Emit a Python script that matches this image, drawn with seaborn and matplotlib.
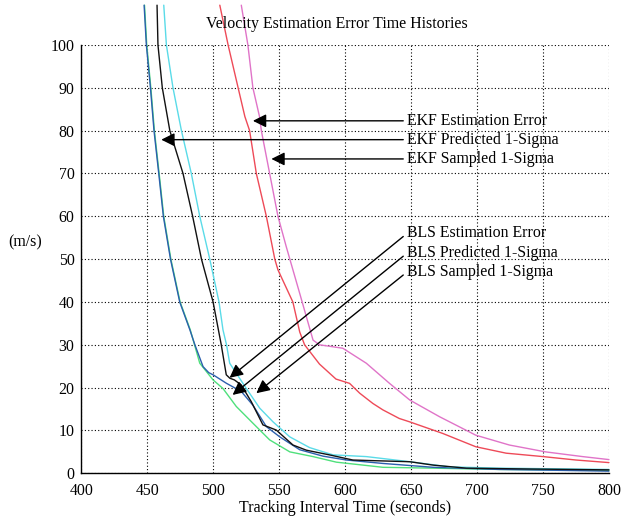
import pandas as pd
import matplotlib
matplotlib.use('Agg')
import matplotlib.pyplot as plt
import seaborn as sns

# Values (time in s, error in m/s)
bls_pred_t = [447.5, 449.2, 452.3, 455.0, 458.6, 462.1, 467.5, 474.5, 482.2, 486.0, 492.2, 496.5,
              499.8, 510.0, 521.2, 530.0, 540.2, 550.4, 565.5, 583.2, 600.9, 628.6, 666.6, 717.0, 760.0, 800.0]
bls_pred_v = [109.3, 100, 90, 80, 70, 60, 50, 40, 33.5, 30, 24.9, 23.5,
              23.0, 21.0, 19.1, 15.9, 10.9, 8.5, 5.5, 4.0, 3.1, 2.3, 1.4, 0.9, 0.7, 0.5]

bls_green_t = [447.8, 449.5, 452.6, 455.3, 458.9, 462.4, 467.8, 474.8, 482.5, 489.7, 499.8, 507.3,
               517.4, 530.0, 542.7, 558.0, 575.6, 593.3, 628.6, 666.6, 717.0, 800.0]
bls_green_v = [109.3, 100, 90, 80, 70, 60, 50, 40, 33.5, 25.7, 21.8, 19.8,
               15.6, 11.7, 7.8, 5.0, 3.9, 2.6, 1.4, 1.2, 0.9, 0.7]

bls_err_t = [457.3, 458.0, 461.3, 467.0, 477.0, 484.3, 491.0, 499.8, 506.0, 509.8, 512.5, 516.0, 521.2,
             528.8, 537.6, 547.7, 560.4, 570.5, 588.0, 605.8, 616.0, 649.0, 667.0, 692.0, 740.0, 800.0]
bls_err_v = [109.3, 100, 90, 80, 70, 60, 50, 40, 30, 23, 22.2, 21.8, 20.6,
             16.7, 11.3, 10.1, 6.6, 5.4, 4.3, 3.1, 3.0, 2.7, 1.9, 1.2, 1.0, 0.8]

bls_samp_t = [462.4, 464.4, 469.4, 475.8, 483.3, 489.7, 497.3, 504.3, 507.3, 510.0, 512.4, 525.0,
              535.2, 545.3, 558.0, 573.0, 590.8, 616.0, 649.0, 679.0, 717.0, 800.0]
bls_samp_v = [109.3, 100, 90, 80, 70, 60, 50, 40, 33.5, 30, 25.7, 19.8,
              15.2, 12.0, 8.5, 6.0, 4.3, 3.9, 2.7, 1.5, 1.2, 0.9]

ekf_err_t = [504.9, 511.2, 518.8, 523.9, 527.5, 532.6, 540.2, 546.6, 549.0, 560.3, 565.5, 569.2, 580.5,
             593.0, 603.3, 611.0, 621.0, 628.6, 641.0, 649.0, 674.0, 699.0, 722.0, 750.0, 775.0, 800.0]
ekf_err_v = [109.3, 100, 90, 83.3, 80, 70, 60, 50, 47.5, 40, 33, 30, 25.5,
             22.0, 21.0, 18.7, 16.3, 14.8, 12.8, 12.0, 9.3, 6.2, 4.7, 3.9, 3.1, 2.5]

ekf_samp_t = [521.2, 526.2, 530.0, 535.0, 536.4, 542.7, 549.0, 555.3, 565.5, 575.6, 580.5, 598.2,
              616.0, 633.6, 649.0, 671.6, 699.0, 724.5, 752.0, 780.0, 800.0]
ekf_samp_v = [109.3, 100, 90, 83.3, 80, 70, 60, 52.9, 42, 31.1, 30, 29.2,
              25.7, 21.0, 17.1, 13.2, 8.9, 6.6, 5.0, 3.9, 3.2]

series = [
    (bls_green_t, bls_green_v, '#4fe07c'),
    (bls_pred_t, bls_pred_v, '#2b5fad'),
    (bls_samp_t, bls_samp_v, '#5adbe8'),
    (bls_err_t, bls_err_v, '#111111'),
    (ekf_err_t, ekf_err_v, '#ee4a58'),
    (ekf_samp_t, ekf_samp_v, '#e074c8'),
]

# labels: text, text anchor (t, v), arrow tip (t, v)
ekf_labels = ['EKF Estimation Error', 'EKF Predicted 1-Sigma', 'EKF Sampled 1-Sigma']
ekf_text_v = [82.3, 77.9, 73.4]
ekf_tip_t = [530.0, 460.5, 544.0]
ekf_tip_v = [82.3, 77.9, 73.4]

bls_labels = ['BLS Estimation Error', 'BLS Predicted 1-Sigma', 'BLS Sampled 1-Sigma']
bls_text_v = [56.1, 51.5, 47.1]
bls_tip_t = [512.3, 514.6, 532.6]
bls_tip_v = [22.3, 18.3, 18.7]
label_t = 646.5

sns.set_theme(style='white')
plt.rcParams['font.family'] = ['Liberation Serif', 'DejaVu Serif']
fs = 11.4

fig = plt.figure(figsize=(6.22, 5.18), dpi=100)
ax = fig.add_axes([0.131, 0.0863, 0.848, 0.8268])

for t, v, c in series:
    df = pd.DataFrame({'t': t, 'v': v})
    sns.lineplot(data=df, x='t', y='v', color=c, lw=1.0, ax=ax, clip_on=False, estimator=None)

ax.set_xlim(400, 800)
ax.set_ylim(0, 100)
ax.set_xticks(range(400, 801, 50))
ax.set_yticks(range(0, 101, 10))
ax.grid(True, color='black', linestyle=(0, (1, 2)), lw=0.8)
for s in ['top', 'right']:
    ax.spines[s].set_visible(False)
for s in ['left', 'bottom']:
    ax.spines[s].set_color('black')
    ax.spines[s].set_linewidth(1.0)
ax.tick_params(direction='in', length=4, width=0.8, colors='black', labelsize=fs)
ax.tick_params(axis='x', pad=7)
ax.tick_params(axis='y', pad=5)

ax.set_xlabel('Tracking Interval Time (seconds)', fontsize=fs, labelpad=1, color='black')
ax.set_ylabel('(m/s)', rotation=0, fontsize=fs, color='black', va='center', ha='center')
ax.yaxis.set_label_coords(-0.107, 0.538)
ax.text(0.484, 1.050, 'Velocity Estimation Error Time Histories', transform=ax.transAxes,
        ha='center', va='center', fontsize=fs, color='black')

arrow = dict(arrowstyle='-|>', color='black', lw=1.0, mutation_scale=20, shrinkA=0, shrinkB=0)
for lab, tv, xt, yt in zip(ekf_labels, ekf_text_v, ekf_tip_t, ekf_tip_v):
    ax.annotate(lab, xy=(xt, yt), xytext=(label_t, tv), ha='left', va='center', fontsize=fs,
                color='black', arrowprops=dict(arrow, relpos=(0, 0.5)))
for lab, tv, xt, yt in zip(bls_labels, bls_text_v, bls_tip_t, bls_tip_v):
    ax.annotate(lab, xy=(xt, yt), xytext=(label_t, tv), ha='left', va='center', fontsize=fs,
                color='black', arrowprops=dict(arrow, relpos=(0, 0.45)))

fig.savefig('out.png', dpi=100)
